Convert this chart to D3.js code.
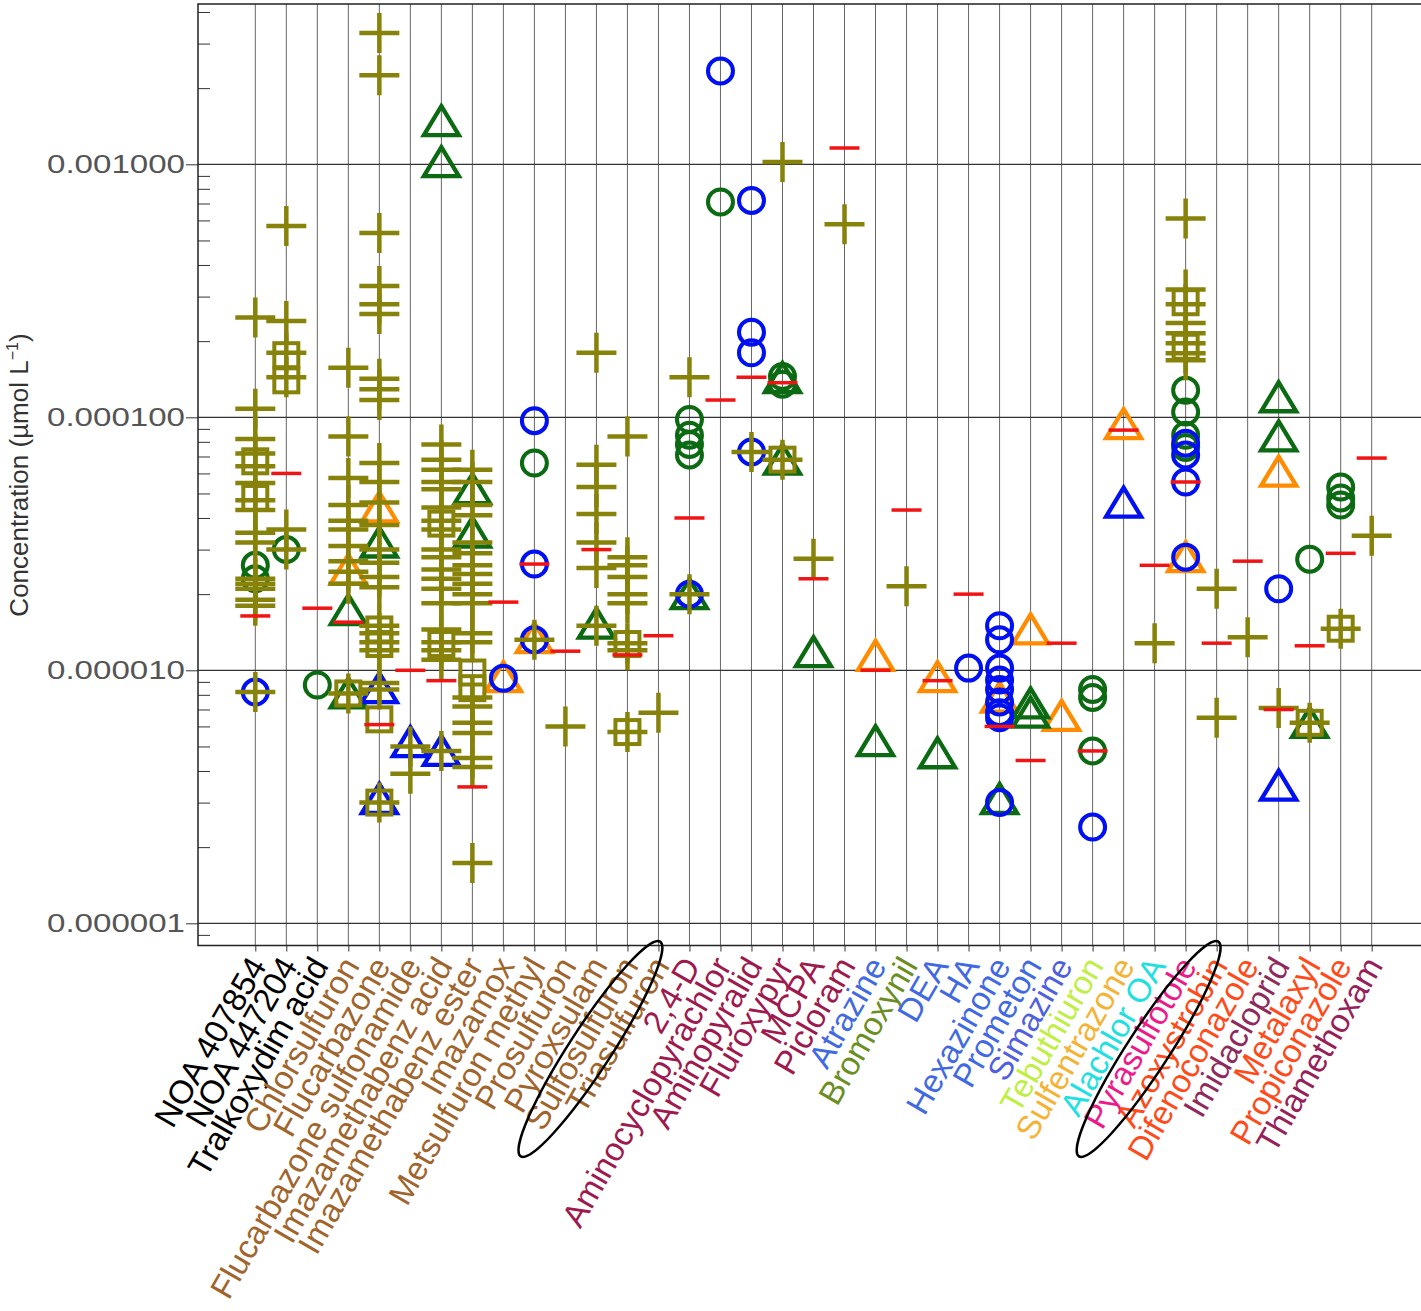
<!DOCTYPE html>
<html>
<head>
<meta charset="utf-8">
<script src="https://cdn.jsdelivr.net/npm/d3@7"></script>
<style>
  body { margin: 0; background: #fff; }
  text { font-family: "Liberation Sans", Arial, sans-serif; }
</style>
</head>
<body>
<svg id="chart"></svg>
<script>
const categories = [
  "NOA 407854", "NOA 447204", "Tralkoxydim acid", "Chlorsulfuron", "Flucarbazone",
  "Flucarbazone sulfonamide", "Imazamethabenz acid", "Imazamethabenz ester", "Imazamox",
  "Metsulfuron methyl", "Prosulfuron", "Pyroxsulam", "Sulfosulfuron", "Triasulfuron",
  "2,4-D", "Aminocyclopyrachlor", "Aminopyralid", "Fluroxypyr", "MCPA", "Picloram",
  "Atrazine", "Bromoxynil", "DEA", "HA", "Hexazinone", "Prometon", "Simazine",
  "Tebuthiuron", "Sulfentrazone", "Alachlor OA", "Pyrasulfotole", "Azoxystrobin",
  "Difenoconazole", "Imidacloprid", "Metalaxyl", "Propiconazole", "Thiamethoxam"
];

const labelColors = [
  "#000", "#000", "#000",
  "#a0652d", "#a0652d", "#a0652d", "#a0652d", "#a0652d", "#a0652d", "#a0652d",
  "#a0652d", "#a0652d", "#a0652d", "#a0652d",
  "#9e1a4e", "#9e1a4e", "#9e1a4e", "#9e1a4e", "#9e1a4e", "#9e1a4e",
  "#4169e1", "#6b8e23", "#4169e1", "#4169e1", "#4169e1", "#4169e1", "#4f5fe0",
  "#bfef45", "#f5b335", "#1fe0e0", "#ee1a8a", "#ff4a1a", "#ff4a1a", "#8e2a5c",
  "#ff4a1a", "#ff4a1a", "#962058"
];

// one red dash per category, same order as categories
const redDash = [
  1.64e-5, 6.0e-5, 1.76e-5, 1.55e-5, 6.1e-6, 1.0e-5, 9.1e-6, 3.46e-6, 1.86e-5,
  2.63e-5, 1.19e-5, 3.0e-5, 1.15e-5, 1.37e-5, 4.0e-5, 1.17e-4, 1.44e-4, 1.37e-4,
  2.3e-5, 1.16e-3, 1.0e-5, 4.3e-5, 9.1e-6, 2.0e-5, 6.0e-6, 4.4e-6, 1.28e-5,
  4.8e-6, 8.9e-5, 2.6e-5, 5.55e-5, 1.28e-5, 2.7e-5, 7.0e-6, 1.25e-5, 2.9e-5, 6.9e-5
];

const olivePlus = {
  "NOA 407854": [2.48e-4, 1.08e-4, 8.2e-5, 7.2e-5, 6.4e-5, 5.5e-5, 4.7e-5, 4.3e-5, 3.5e-5, 3.2e-5, 2.3e-5, 2.2e-5, 2.1e-5, 1.9e-5, 1.8e-5, 8.2e-6],
  "NOA 447204": [5.7e-4, 2.4e-4, 1.8e-4, 1.44e-4, 3.6e-5, 3.0e-5],
  "Chlorsulfuron": [1.57e-4, 8.4e-5, 5.75e-5, 4.5e-5, 3.9e-5, 3.6e-5, 3.1e-5, 2.7e-5, 2.45e-5, 2.2e-5, 8.1e-6],
  "Flucarbazone": [3.3e-3, 2.25e-3, 5.35e-4, 3.3e-4, 2.8e-4, 2.56e-4, 1.42e-4, 1.29e-4, 1.17e-4, 6.6e-5, 5.55e-5, 4.6e-5, 3.75e-5, 3.0e-5, 2.66e-5, 2.34e-5, 2.13e-5, 1.5e-5, 1.4e-5, 1.29e-5, 1.2e-5, 8.9e-6, 8.4e-6, 3.0e-6],
  "Flucarbazone sulfonamide": [5.0e-6, 3.9e-6],
  "Imazamethabenz acid": [7.8e-5, 6.8e-5, 6.2e-5, 5.55e-5, 5.2e-5, 4.4e-5, 3.9e-5, 3.6e-5, 3.0e-5, 2.8e-5, 2.5e-5, 2.3e-5, 2.1e-5, 1.84e-5, 1.45e-5, 1.29e-5, 1.2e-5, 1.1e-5, 4.8e-6],
  "Imazamethabenz ester": [6.2e-5, 5.55e-5, 4.5e-5, 4.1e-5, 3.2e-5, 2.9e-5, 2.6e-5, 2.4e-5, 2.2e-5, 2.0e-5, 1.84e-5, 1.4e-5, 1.29e-5, 7.8e-6, 7.2e-6, 6.2e-6, 5.65e-6, 4.5e-6, 4.15e-6, 1.73e-6],
  "Metsulfuron methyl": [1.32e-5],
  "Prosulfuron": [6.0e-6],
  "Pyroxsulam": [1.8e-4, 6.5e-5, 5.3e-5, 4.15e-5, 3.2e-5, 2.54e-5, 1.5e-5],
  "Sulfosulfuron": [8.4e-5, 2.8e-5, 2.6e-5, 2.34e-5, 2.0e-5, 1.84e-5, 1.28e-5, 1.2e-5, 5.7e-6],
  "Triasulfuron": [6.8e-6],
  "2,4-D": [1.44e-4, 2.0e-5],
  "Aminopyralid": [7.3e-5],
  "Fluroxypyr": [1.02e-3, 6.8e-5],
  "MCPA": [2.76e-5],
  "Picloram": [5.8e-4],
  "Bromoxynil": [2.15e-5],
  "Alachlor OA": [1.28e-5],
  "Pyrasulfotole": [6.1e-4, 3.2e-4, 2.8e-4, 2.36e-4, 2.15e-4, 1.96e-4, 1.79e-4, 1.68e-4],
  "Azoxystrobin": [2.1e-5, 6.5e-6],
  "Difenoconazole": [1.35e-5],
  "Imidacloprid": [7.1e-6],
  "Metalaxyl": [6.2e-6],
  "Propiconazole": [1.46e-5],
  "Thiamethoxam": [3.4e-5]
};

const oliveSquare = {
  "NOA 407854": [6.7e-5, 4.8e-5],
  "NOA 447204": [1.76e-4, 1.4e-4],
  "Chlorsulfuron": [8.1e-6],
  "Flucarbazone": [1.45e-5, 1.27e-5, 6.4e-6, 3.0e-6],
  "Imazamethabenz acid": [3.8e-5, 1.27e-5],
  "Imazamethabenz ester": [9.8e-6, 8.5e-6],
  "Sulfosulfuron": [1.27e-5, 5.7e-6],
  "Fluroxypyr": [6.8e-5],
  "Pyrasulfotole": [2.85e-4, 1.9e-4],
  "Metalaxyl": [6.2e-6],
  "Propiconazole": [1.46e-5]
};

const greenCircle = {
  "NOA 407854": [2.6e-5, 2.3e-5],
  "NOA 447204": [3.0e-5],
  "Tralkoxydim acid": [8.75e-6],
  "Metsulfuron methyl": [6.6e-5],
  "2,4-D": [9.8e-5, 8.5e-5, 7.8e-5, 7.1e-5],
  "Aminocyclopyrachlor": [7.1e-4],
  "Fluroxypyr": [1.45e-4, 1.35e-4],
  "Tebuthiuron": [8.4e-6, 7.8e-6, 4.8e-6],
  "Pyrasulfotole": [1.28e-4, 1.05e-4, 8.5e-5, 7.6e-5],
  "Metalaxyl": [2.75e-5],
  "Propiconazole": [5.3e-5, 4.8e-5, 4.5e-5]
};

const blueCircle = {
  "NOA 407854": [8.2e-6],
  "Imazamox": [9.3e-6],
  "Metsulfuron methyl": [9.7e-5, 2.63e-5, 1.32e-5],
  "2,4-D": [2.0e-5],
  "Aminocyclopyrachlor": [2.34e-3],
  "Aminopyralid": [7.2e-4, 2.17e-4, 1.8e-4, 7.3e-5],
  "HA": [1.02e-5],
  "Hexazinone": [1.5e-5, 1.32e-5, 1.02e-5, 9.15e-6, 8.4e-6, 7.5e-6, 6.8e-6, 6.5e-6, 3.0e-6],
  "Tebuthiuron": [2.4e-6],
  "Pyrasulfotole": [7.9e-5, 7.1e-5, 5.55e-5, 2.8e-5],
  "Imidacloprid": [2.1e-5]
};

const greenTriangle = {
  "Chlorsulfuron": [1.73e-5, 8.1e-6],
  "Flucarbazone": [3.2e-5],
  "Imazamethabenz acid": [1.48e-3, 1.02e-3],
  "Imazamethabenz ester": [5.2e-5, 3.5e-5],
  "Pyroxsulam": [1.53e-5],
  "2,4-D": [2.0e-5],
  "Fluroxypyr": [1.43e-4, 6.8e-5],
  "MCPA": [1.18e-5],
  "Atrazine": [5.25e-6],
  "DEA": [4.7e-6],
  "Hexazinone": [3.1e-6],
  "Prometon": [7.4e-6, 6.8e-6],
  "Imidacloprid": [1.2e-4, 8.4e-5],
  "Metalaxyl": [6.2e-6]
};

const blueTriangle = {
  "Flucarbazone": [8.5e-6, 3.1e-6],
  "Flucarbazone sulfonamide": [5.2e-6],
  "Imazamethabenz acid": [4.8e-6],
  "Sulfentrazone": [4.6e-5],
  "Imidacloprid": [3.5e-6]
};

const orangeTriangle = {
  "Chlorsulfuron": [2.5e-5],
  "Flucarbazone": [4.4e-5],
  "Imazamox": [9.4e-6],
  "Metsulfuron methyl": [1.34e-5],
  "Atrazine": [1.14e-5],
  "DEA": [9.4e-6],
  "Hexazinone": [7.8e-6],
  "Prometon": [1.45e-5],
  "Simazine": [6.6e-6],
  "Sulfentrazone": [9.4e-5],
  "Pyrasulfotole": [2.8e-5],
  "Imidacloprid": [6.1e-5]
};

const yTicks = [1e-3, 1e-4, 1e-5, 1e-6];
const yTickLabels = ["0.001000", "0.000100", "0.000010", "0.000001"];
const circledLabels = ["Sulfosulfuron", "Pyrasulfotole"];

const svgWidth = 1421, svgHeight = 1311;
const frame = { left: 198, top: 4, bottom: 945.5, right: 1421 };

const svg = d3.select("#chart")
  .attr("width", svgWidth)
  .attr("height", svgHeight);

svg.append("rect")
  .attr("width", svgWidth)
  .attr("height", svgHeight)
  .attr("fill", "#fff");

const x = d3.scalePoint()
  .domain(categories)
  .range([255.3, 1371.7]);

// decades sit at fixed rows, the frame runs a little past them
const yDecades = d3.scaleLog().domain([1e-3, 1e-6]).range([164.3, 923.3]);
const y = d3.scaleLog()
  .domain([yDecades.invert(frame.top), yDecades.invert(frame.bottom)])
  .range([frame.top, frame.bottom]);

const flatten = obj => Object.entries(obj)
  .flatMap(([c, vals]) => vals.map(v => ({ c: c, v: v })));

// grid
svg.append("g")
  .selectAll("line")
  .data(categories)
  .join("line")
  .attr("x1", d => x(d))
  .attr("x2", d => x(d))
  .attr("y1", frame.top)
  .attr("y2", frame.bottom)
  .attr("stroke", "#666")
  .attr("stroke-width", 1);

svg.append("g")
  .selectAll("line")
  .data(yTicks)
  .join("line")
  .attr("x1", frame.left)
  .attr("x2", frame.right)
  .attr("y1", d => y(d))
  .attr("y2", d => y(d))
  .attr("stroke", "#333")
  .attr("stroke-width", 1.2);

// y axis: major ticks outside, minor ticks inside
const yAxis = svg.append("g")
  .attr("transform", "translate(" + frame.left + ",0)")
  .call(d3.axisLeft(y)
    .tickValues(yTicks)
    .tickFormat((d, i) => yTickLabels[i])
    .tickSize(12)
    .tickPadding(1));
yAxis.select(".domain").remove();
yAxis.selectAll("line").attr("stroke", "#333");
yAxis.selectAll("text")
  .attr("fill", "#555")
  .attr("font-size", 26)
  .attr("textLength", 138)
  .attr("lengthAdjust", "spacingAndGlyphs")
  .style("font-family", "'Liberation Sans', Arial, sans-serif");

const minor = y.ticks().filter(d => !yTicks.some(t => Math.abs(t - d) / t < 1e-6));
const yMinor = svg.append("g")
  .attr("transform", "translate(" + frame.left + ",0)")
  .call(d3.axisRight(y).tickValues(minor).tickFormat("").tickSize(12));
yMinor.select(".domain").remove();
yMinor.selectAll("line").attr("stroke", "#333");

// bottom axis ticks
const xAxis = svg.append("g")
  .attr("transform", "translate(0," + frame.bottom + ")")
  .call(d3.axisBottom(x).tickFormat("").tickSize(6));
xAxis.select(".domain").remove();
xAxis.selectAll("line").attr("stroke", "#333");

// frame
svg.append("path")
  .attr("d", "M" + frame.right + "," + frame.top + "H" + frame.left + "V" + frame.bottom + "H" + frame.right)
  .attr("fill", "none")
  .attr("stroke", "#222")
  .attr("stroke-width", 1.5);

// markers
const triPath = "M0,-15L17.5,14L-17.5,14Z";

function drawTriangles(data, color) {
  svg.append("g")
    .selectAll("path")
    .data(flatten(data))
    .join("path")
    .attr("transform", d => "translate(" + x(d.c) + "," + y(d.v) + ")")
    .attr("d", triPath)
    .attr("fill", "none")
    .attr("stroke", color)
    .attr("stroke-width", 4.3)
    .attr("stroke-linejoin", "miter");
}

function drawCircles(data, color) {
  svg.append("g")
    .selectAll("circle")
    .data(flatten(data))
    .join("circle")
    .attr("cx", d => x(d.c))
    .attr("cy", d => y(d.v))
    .attr("r", 12.5)
    .attr("fill", "none")
    .attr("stroke", color)
    .attr("stroke-width", 4);
}

drawTriangles(orangeTriangle, "#ff8c00");
drawTriangles(greenTriangle, "#0b6a12");
drawTriangles(blueTriangle, "#0010f0");
drawCircles(greenCircle, "#0b6a12");
drawCircles(blueCircle, "#0010f0");

svg.append("g")
  .selectAll("rect")
  .data(flatten(oliveSquare))
  .join("rect")
  .attr("x", d => x(d.c) - 12)
  .attr("y", d => y(d.v) - 12)
  .attr("width", 24)
  .attr("height", 24)
  .attr("fill", "none")
  .attr("stroke", "#87820a")
  .attr("stroke-width", 4);

svg.append("g")
  .selectAll("path")
  .data(flatten(olivePlus))
  .join("path")
  .attr("transform", d => "translate(" + x(d.c) + "," + y(d.v) + ")")
  .attr("d", "M-20,0H20M0,-20V20")
  .attr("stroke", "#87820a")
  .attr("stroke-width", 4.5);

svg.append("g")
  .selectAll("path")
  .data(redDash)
  .join("path")
  .attr("transform", (d, i) => "translate(" + x(categories[i]) + "," + y(d) + ")")
  .attr("d", "M-15,0H15")
  .attr("stroke", "#f01414")
  .attr("stroke-width", 3.5);

// category labels
svg.append("g")
  .selectAll("text")
  .data(categories)
  .join("text")
  .attr("transform", d => "translate(" + (x(d) + 2) + ",960) rotate(-60)")
  .attr("text-anchor", "end")
  .attr("dy", "0.35em")
  .attr("font-size", 33)
  .attr("fill", (d, i) => labelColors[i])
  .text(d => d);

// hand-drawn rings around two labels
svg.append("g")
  .selectAll("ellipse")
  .data(circledLabels)
  .join("ellipse")
  .attr("transform", d => "translate(" + (x(d) - 37) + ",1049) rotate(-57)")
  .attr("rx", 128)
  .attr("ry", 21)
  .attr("fill", "none")
  .attr("stroke", "#000")
  .attr("stroke-width", 2.5);

// y title
const title = svg.append("text")
  .attr("transform", "translate(28,475) rotate(-90)")
  .attr("text-anchor", "middle")
  .attr("font-size", 26)
  .attr("fill", "#333");
title.append("tspan").text("Concentration (µmol L");
title.append("tspan").attr("dy", -10).attr("font-size", 16).text("−1");
title.append("tspan").attr("dy", 10).text(")");
</script>
</body>
</html>
